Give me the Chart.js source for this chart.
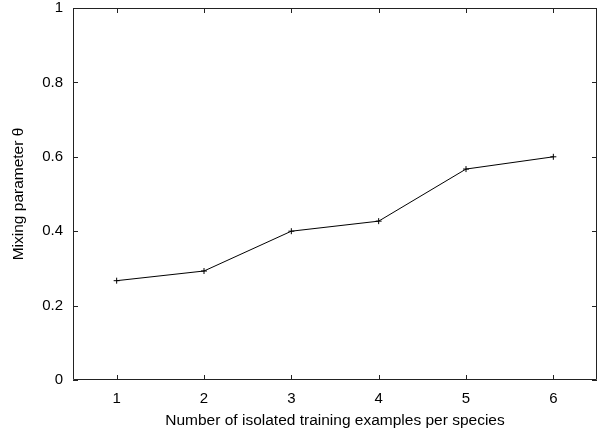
<!DOCTYPE html>
<html>
<head>
<meta charset="utf-8">
<script src="https://cdn.jsdelivr.net/npm/chart.js@4.4.1/dist/chart.umd.min.js"></script>
<style>
  html, body { margin: 0; padding: 0; background: #fff; }
  #chart { display: block; }
</style>
</head>
<body>
<canvas id="chart" width="602" height="430"></canvas>
<script>
// ─── Données ───
const examplesPerSpecies = [1, 2, 3, 4, 5, 6];
const mixingTheta = [0.267, 0.293, 0.4, 0.427, 0.567, 0.6];
const xTickValues = [1, 2, 3, 4, 5, 6];
const yTickValues = [0, 0.2, 0.4, 0.6, 0.8, 1];

const FONT = "'Liberation Sans', Arial, sans-serif";

// ─── Cadre + graduations vers l'intérieur (style gnuplot) ───
const framePlugin = {
  id: 'frame',
  afterDatasetsDraw(chart) {
    const { ctx, chartArea: a, scales } = chart;
    const len = 5;
    ctx.save();
    ctx.strokeStyle = '#222';
    ctx.lineWidth = 1;
    ctx.beginPath();
    ctx.rect(Math.round(a.left) + 0.5, Math.round(a.top) + 0.5,
             Math.round(a.right - a.left) - 1, Math.round(a.bottom - a.top) - 1);
    xTickValues.forEach(v => {
      const x = Math.round(scales.x.getPixelForValue(v)) + 0.5;
      ctx.moveTo(x, a.bottom); ctx.lineTo(x, a.bottom - len);
      ctx.moveTo(x, a.top); ctx.lineTo(x, a.top + len);
    });
    yTickValues.forEach(v => {
      const y = Math.round(scales.y.getPixelForValue(v)) + 0.5;
      ctx.moveTo(a.left, y); ctx.lineTo(a.left + len, y);
      ctx.moveTo(a.right, y); ctx.lineTo(a.right - len, y);
    });
    ctx.stroke();
    ctx.restore();
  }
};

new Chart(document.getElementById('chart'), {
  type: 'line',
  data: {
    datasets: [{
      data: examplesPerSpecies.map((x, i) => ({ x, y: mixingTheta[i] })),
      borderColor: '#000',
      borderWidth: 1,
      pointStyle: 'cross',
      pointRadius: 3,
      pointBorderColor: '#000',
      pointBorderWidth: 1,
      tension: 0,
      fill: false,
    }]
  },
  options: {
    responsive: false,
    animation: false,
    devicePixelRatio: 1,
    layout: { padding: { top: 8, right: 3, left: 0, bottom: 0 } },
    plugins: { legend: { display: false }, tooltip: { enabled: false } },
    scales: {
      x: {
        type: 'linear',
        min: 0.5,
        max: 6.5,
        grid: { display: false, drawTicks: false },
        border: { display: false },
        afterBuildTicks: (s) => { s.ticks = xTickValues.map(v => ({ value: v })); },
        afterFit: (s) => { s.height = 50; s.paddingLeft = 0; s.paddingRight = 0; },
        ticks: {
          padding: 10,
          color: '#000',
          font: { family: FONT, size: 15 },
          callback: (v) => String(v),
        },
        title: {
          display: true,
          text: 'Number of isolated training examples per species',
          color: '#000',
          font: { family: FONT, size: 15.5 },
          padding: { top: 4, bottom: 0 },
        }
      },
      y: {
        min: 0,
        max: 1,
        grid: { display: false, drawTicks: false },
        border: { display: false },
        afterBuildTicks: (s) => { s.ticks = yTickValues.map(v => ({ value: v })); },
        afterFit: (s) => { s.width = 73; s.paddingTop = 0; s.paddingBottom = 0; },
        ticks: {
          padding: 10,
          color: '#000',
          font: { family: FONT, size: 15 },
          callback: (v) => String(v),
        },
        title: {
          display: true,
          text: 'Mixing parameter θ',
          color: '#000',
          font: { family: FONT, size: 15.5 },
          padding: { top: 9, bottom: 4 },
        }
      }
    }
  },
  plugins: [framePlugin]
});
</script>
</body>
</html>
